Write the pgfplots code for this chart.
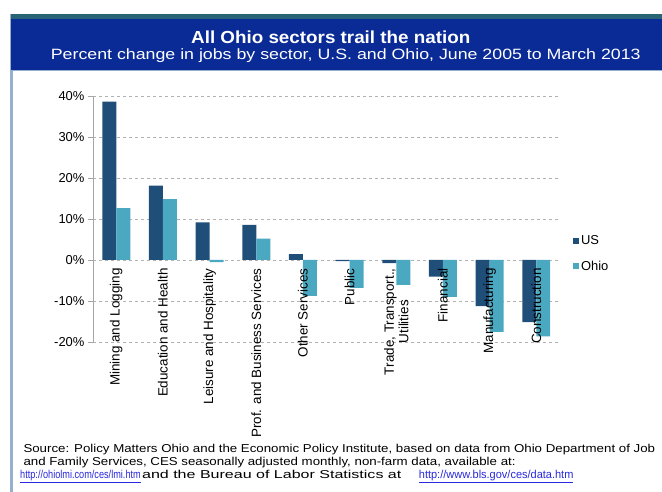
\documentclass[border=0pt]{standalone}
\usepackage{pgfplots}
\pgfplotsset{compat=1.18}
\usepackage{fontspec}
\setmainfont{Liberation Sans}
\definecolor{usblue}{RGB}{31,78,121}
\definecolor{ohteal}{RGB}{74,168,192}
\definecolor{bandblue}{RGB}{10,42,150}
\definecolor{stripteal}{RGB}{40,100,115}
\definecolor{borderblue}{RGB}{150,175,205}
\definecolor{linkblue}{RGB}{40,40,220}
\pgfplotsset{
  layers/labelsontop/.define layer set={
    axis background,axis grid,axis ticks,axis lines,pre main,main,axis tick labels,axis descriptions,axis foreground
  }{
    grid style={/pgfplots/on layer=axis grid},
    tick style={/pgfplots/on layer=axis ticks},
    axis line style={/pgfplots/on layer=axis lines},
    label style={/pgfplots/on layer=axis descriptions},
    legend style={/pgfplots/on layer=axis descriptions},
    title style={/pgfplots/on layer=axis descriptions},
    colorbar style={/pgfplots/on layer=axis descriptions},
    ticklabel style={/pgfplots/on layer=axis tick labels},
    axis background@ style={/pgfplots/on layer=axis background},
    3d box foreground style={/pgfplots/on layer=axis foreground},
  },
}
\begin{document}
\begin{tikzpicture}[x=1bp,y=1bp]
\path (0,0) rectangle (662,492);
\fill[borderblue] (10,0) rectangle (13,478);
\fill[stripteal] (11,473) rectangle (662,478);
\fill[bandblue] (11,422) rectangle (662,473);
\draw[borderblue, line width=1bp] (11,421.5) -- (662,421.5);
\node[white, font=\fontsize{17.5}{20}\selectfont\bfseries] at (331,455) {\scalebox{1.08}[1]{All Ohio sectors trail the nation}};
\node[white, font=\fontsize{15}{17}\selectfont] at (346,436) {\scalebox{1.19}[1]{Percent change in jobs by sector, U.S. and Ohio, June 2005 to March 2013}};
\begin{axis}[
  set layers=labelsontop,
  at={(93bp,150bp)}, anchor=south west, scale only axis,
  width=467bp, height=245.5bp,
  ymin=-20, ymax=40, xmin=-0.5, xmax=9.5,
  ybar=0pt, bar width=14bp,
  axis x line*=middle, axis y line*=left,
  hide obscured x ticks=false, hide obscured y ticks=false,
  x axis line style={draw=none},
  y axis line style={-, draw=gray!70},
  xtick={0,...,9},
  xticklabels={Mining and Logging, Education and Health, Leisure and Hospitality, Prof. and Business Services, Other Services, Public, {Trade, Transport.,\\Utilities}, Financial, Manufacturing, Construction},
  xtick style={draw=none},
  xticklabel style={rotate=90, anchor=east, align=center, font=\fontsize{13.5}{14.5}\selectfont},
  ytick={-20,-10,...,40},
  ytick style={draw=gray!70},
  tick align=outside, major tick length=5bp,
  yticklabel={\pgfmathprintnumber{\tick}\%},
  /pgf/number format/assume math mode=true,
  yticklabel style={font=\fontsize{13}{14}\selectfont},
  ymajorgrids, grid style={gray!60, dash pattern=on 3bp off 3bp},
  legend style={at={(1.022,0.45)}, anchor=north west, draw=none, fill=none,
    font=\fontsize{13}{15}\selectfont, row sep=11bp},
  legend cell align=left,
  legend image code/.code={\fill[#1, draw=none] (0bp,-3bp) rectangle (6bp,3bp);},
]
\addplot[fill=usblue, draw=none] coordinates {(0,38.7) (1,18.2) (2,9.2) (3,8.6) (4,1.4) (5,-0.3) (6,-0.8) (7,-4.1) (8,-11.3) (9,-15.2)};
\addplot[fill=ohteal, draw=none] coordinates {(0,12.7) (1,14.9) (2,-0.5) (3,5.2) (4,-8.8) (5,-6.8) (6,-6.1) (7,-9.0) (8,-17.6) (9,-18.7)};
\legend{US, Ohio}
\end{axis}
\node[anchor=base west, font=\fontsize{11.5}{12}\selectfont] at (20,39) {\scalebox{1.16}[1]{Source: Policy Matters Ohio and the Economic Policy Institute, based on data from Ohio Department of Job}};
\node[anchor=base west, font=\fontsize{11.5}{12}\selectfont] at (20,26) {\scalebox{1.16}[1]{and Family Services, CES seasonally adjusted monthly, non-farm data, available at:}};
\node[anchor=base west, font=\fontsize{11.5}{12}\selectfont, inner xsep=0pt] at (20,13) {\scalebox{0.8}[1]{\textcolor{linkblue}{\underline{http://ohiolmi.com/ces/lmi.htm}}}};
\node[anchor=base west, font=\fontsize{11.5}{12}\selectfont, inner xsep=0pt] at (142,13) {\scalebox{1.4}[1]{and the Bureau of Labor Statistics at}};
\node[anchor=base west, font=\fontsize{11.5}{12}\selectfont, inner xsep=0pt] at (419,13) {\scalebox{0.96}[1]{\textcolor{linkblue}{\underline{http://www.bls.gov/ces/data.htm}}}};
\end{tikzpicture}
\end{document}
